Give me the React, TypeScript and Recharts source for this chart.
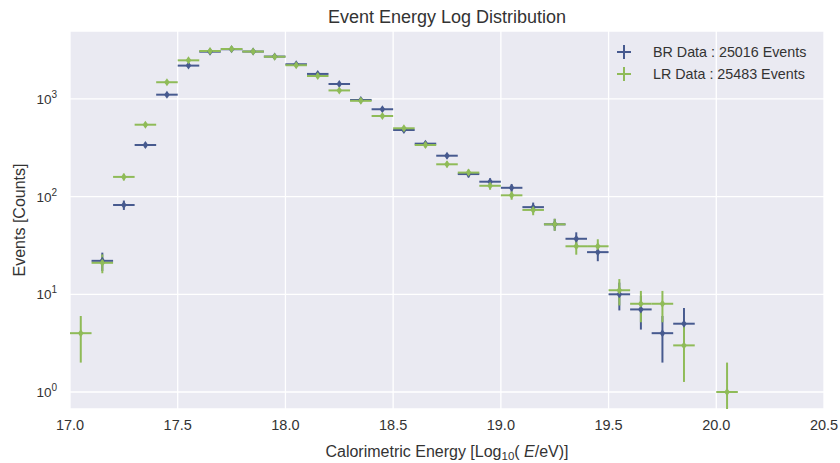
import React from 'react';
import { ScatterChart, Scatter, XAxis, YAxis, CartesianGrid, ErrorBar } from 'recharts';

// bin centres (log10 E/eV), bin width 0.1
const brEnergy = [17.15, 17.25, 17.35, 17.45, 17.55, 17.65, 17.75, 17.85, 17.95, 18.05, 18.15, 18.25, 18.35, 18.45,
  18.55, 18.65, 18.75, 18.85, 18.95, 19.05, 19.15, 19.25, 19.35, 19.45, 19.55, 19.65, 19.75, 19.85];
const brCounts = [22, 82, 337, 1104, 2190, 3040, 3220, 3050, 2710, 2260, 1800, 1420, 975, 783,
  480, 348, 262, 170, 142, 123, 78, 52, 37, 27, 10, 7, 4, 5];

const lrEnergy = [17.05, 17.15, 17.25, 17.35, 17.45, 17.55, 17.65, 17.75, 17.85, 17.95, 18.05, 18.15, 18.25, 18.35, 18.45,
  18.55, 18.65, 18.75, 18.85, 18.95, 19.05, 19.15, 19.25, 19.35, 19.45, 19.55, 19.65, 19.75, 19.85, 20.05];
const lrCounts = [4, 21, 159, 544, 1480, 2480, 3090, 3240, 3050, 2700, 2210, 1715, 1220, 955, 668,
  500, 337, 214, 176, 129, 103, 73, 52, 31, 31, 11, 8, 8, 3, 1];

const xTicks = [17.0, 17.5, 18.0, 18.5, 19.0, 19.5, 20.0, 20.5];
const yTicks = [1, 10, 100, 1000];

const BIN_HALF = 0.05;
const Y_MIN = 0.67;
const Y_MAX = 4950;

const BLUE = '#475a8f';
const GREEN = '#8fbb58';
const TEXT = '#333333';
const FONT = '"Liberation Sans", Arial, sans-serif';

// poisson errors, lower end clipped at the axis floor
const toPoints = (xs: number[], ns: number[]) =>
  xs.map((x, i) => {
    const n = ns[i];
    const err = Math.sqrt(n);
    return { x, y: n, yErr: [Math.min(err, n - Y_MIN), err], xErr: BIN_HALF };
  });

const brData = toPoints(brEnergy, brCounts);
const lrData = toPoints(lrEnergy, lrCounts);

const Diamond = (props: any) => {
  const { cx, cy, fill } = props;
  return <path d={`M${cx},${cy - 4} L${cx + 2.8},${cy} L${cx},${cy + 4} L${cx - 2.8},${cy} Z`} fill={fill} />;
};

const XTick = (props: any) => {
  const { x, y, payload } = props;
  return (
    <text x={x} y={y + 21} textAnchor="middle" fontSize={14.5} fill={TEXT} fontFamily={FONT}>
      {Number(payload.value).toFixed(1)}
    </text>
  );
};

const YTick = (props: any) => {
  const { x, y, payload } = props;
  const exp = Math.round(Math.log10(payload.value));
  return (
    <text x={x - 13} y={y + 5} textAnchor="end" fontSize={13.5} fill={TEXT} fontFamily={FONT}>
      10
      <tspan dy={-6} fontSize={10}>{exp}</tspan>
    </text>
  );
};

const LegendCross = ({ color }: { color: string }) => (
  <svg width={16} height={16} style={{ display: 'block' }}>
    <line x1={1} y1={8} x2={15} y2={8} stroke={color} strokeWidth={2} />
    <line x1={8} y1={1} x2={8} y2={15} stroke={color} strokeWidth={2} />
  </svg>
);

export default function App() {
  return (
    <div style={{ position: 'absolute', left: 0, top: 0, width: 840, height: 463, background: '#fff', fontFamily: FONT }}>
      <div style={{ position: 'absolute', left: 70, width: 754, top: 7, lineHeight: '20px', textAlign: 'center', fontSize: 18, color: TEXT }}>
        Event Energy Log Distribution
      </div>

      <ScatterChart width={840} height={463} margin={{ top: 31, right: 16, bottom: 24, left: 10 }}>
        <CartesianGrid fill="#eaeaf2" stroke="#ffffff" strokeWidth={1.3} />
        <XAxis
          type="number"
          dataKey="x"
          domain={[17, 20.5]}
          ticks={xTicks}
          height={30}
          axisLine={false}
          tickLine={false}
          tickSize={0}
          tickMargin={0}
          tick={<XTick />}
          interval={0}
        />
        <YAxis
          type="number"
          dataKey="y"
          scale="log"
          domain={[Y_MIN, Y_MAX]}
          allowDataOverflow
          ticks={yTicks}
          width={60}
          axisLine={false}
          tickLine={false}
          tickSize={0}
          tickMargin={0}
          tick={<YTick />}
          interval={0}
        />
        <Scatter name="BR Data" data={brData} fill={BLUE} shape={<Diamond />} isAnimationActive={false}>
          <ErrorBar dataKey="xErr" direction="x" width={0} stroke={BLUE} strokeWidth={2} />
          <ErrorBar dataKey="yErr" direction="y" width={0} stroke={BLUE} strokeWidth={2} />
        </Scatter>
        <Scatter name="LR Data" data={lrData} fill={GREEN} shape={<Diamond />} isAnimationActive={false}>
          <ErrorBar dataKey="xErr" direction="x" width={0} stroke={GREEN} strokeWidth={2} />
          <ErrorBar dataKey="yErr" direction="y" width={0} stroke={GREEN} strokeWidth={2} />
        </Scatter>
      </ScatterChart>

      <div style={{ position: 'absolute', left: 616, top: 41, fontSize: 14.3, color: TEXT, lineHeight: '22px' }}>
        {[{ label: 'BR Data : 25016 Events', color: BLUE }, { label: 'LR Data : 25483 Events', color: GREEN }].map(item => (
          <div key={item.label} style={{ display: 'flex', alignItems: 'center' }}>
            <LegendCross color={item.color} />
            <span style={{ marginLeft: 21 }}>{item.label}</span>
          </div>
        ))}
      </div>

      <div style={{ position: 'absolute', left: 70, width: 754, top: 443, lineHeight: '18px', textAlign: 'center', fontSize: 16, color: TEXT }}>
        Calorimetric Energy [Log<sub style={{ fontSize: 11.5, verticalAlign: '-3px', lineHeight: 0 }}>10</sub>( <i>E</i>/eV)]
      </div>

      <div
        style={{
          position: 'absolute', left: 20, top: 220, fontSize: 16, color: TEXT, whiteSpace: 'nowrap',
          transform: 'translate(-50%, -50%) rotate(-90deg)',
        }}
      >
        Events [Counts]
      </div>
    </div>
  );
}
